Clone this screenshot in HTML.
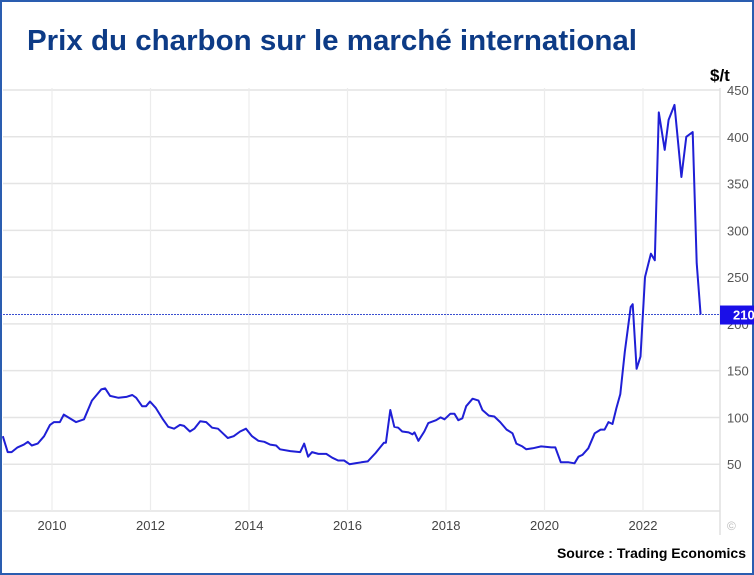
<!DOCTYPE html>
<html><head><meta charset="utf-8"><style>
html,body{margin:0;padding:0;background:#fff;}
svg{display:block;font-family:"Liberation Sans",Arial,sans-serif;}
</style></head><body>
<svg id="chart" width="754" height="575" viewBox="0 0 754 575">
<rect x="1" y="1" width="752" height="573" fill="#fff" stroke="#2a5db0" stroke-width="2"/>
<text x="27" y="50" font-size="29" font-weight="bold" fill="#0d3b86" textLength="610" lengthAdjust="spacingAndGlyphs">Prix du charbon sur le marché international</text>
<text x="710" y="81" font-size="17" font-weight="bold" fill="#000">$/t</text>
<g id="grid"></g>
<g id="yticks"></g>
<g id="xticks"></g>
<g id="series"></g>
<text x="727" y="530" font-size="12" fill="#bbb">©</text>
<text x="746" y="558" font-size="14" font-weight="bold" fill="#000" text-anchor="end">Source : Trading Economics</text>
</svg>
<script>
const yTicks = [50,100,150,200,250,300,350,400,450];
const xTickYears = [2010,2012,2014,2016,2018,2020,2022];
const dates = [2009.0,2009.1,2009.18,2009.3,2009.43,2009.51,2009.59,2009.71,2009.84,2009.96,2010.04,2010.16,2010.24,2010.33,2010.49,2010.65,2010.81,2011.0,2011.08,2011.18,2011.35,2011.51,2011.63,2011.71,2011.83,2011.91,2011.99,2012.11,2012.24,2012.36,2012.48,2012.6,2012.68,2012.8,2012.89,2013.01,2013.13,2013.25,2013.37,2013.49,2013.57,2013.69,2013.82,2013.94,2014.06,2014.19,2014.31,2014.43,2014.55,2014.63,2014.84,2015.04,2015.12,2015.2,2015.28,2015.41,2015.57,2015.69,2015.81,2015.93,2016.04,2016.16,2016.28,2016.41,2016.57,2016.74,2016.78,2016.87,2016.95,2017.03,2017.11,2017.24,2017.32,2017.36,2017.44,2017.56,2017.64,2017.8,2017.89,2017.97,2018.09,2018.17,2018.25,2018.33,2018.41,2018.54,2018.66,2018.74,2018.87,2018.98,2019.1,2019.23,2019.35,2019.43,2019.55,2019.63,2019.76,2019.93,2020.14,2020.22,2020.33,2020.49,2020.61,2020.69,2020.77,2020.89,2021.02,2021.14,2021.22,2021.3,2021.38,2021.46,2021.54,2021.63,2021.75,2021.79,2021.87,2021.95,2022.04,2022.16,2022.24,2022.32,2022.44,2022.52,2022.64,2022.78,2022.88,2023.01,2023.09,2023.17,2023.21];
const prices = [80,63,63,68,71,74,70,72,80,92,95,95,103,100,95,98,118,130,131,123,121,122,124,121,112,112,117,110,99,90,88,92,91,85,88,96,95,89,88,82,78,80,85,88,80,75,74,71,70,66,64,63,72,58,63,61,61,57,54,54,50,51,52,53,62,73,73,108,90,89,85,84,82,84,75,85,94,97,100,98,104,104,97,99,112,120,118,108,102,101,95,87,83,72,69,66,67,69,68,68,52,52,51,58,60,67,83,87,87,95,93,110,125,170,218,221,152,165,250,275,268,426,386,418,434,357,400,405,265,210];
const lastValue = 210;

const NS = 'http://www.w3.org/2000/svg';
const X = yr => 52 + (yr - 2010) * 49.25;
const Y = v => 511 - v * 0.9356;
function mk(tag, attrs, parent){ const e=document.createElementNS(NS,tag); for(const k in attrs) e.setAttribute(k,attrs[k]); parent.appendChild(e); return e; }

const grid=document.getElementById('grid'), yt=document.getElementById('yticks'), xt=document.getElementById('xticks'), ser=document.getElementById('series');
[0].concat(yTicks).forEach(v=>{
  const l=mk('line',{x1:3,x2:720,y1:Y(v),y2:Y(v),stroke:'#e4e4e4','stroke-width':1.5},grid);
  
  
});
yTicks.forEach(v=>{
  const t=mk('text',{x:727,y:Y(v)+5,'font-size':13,fill:'#555'},yt);
  t.textContent=v;
  
  
});
xTickYears.forEach(yr=>{
  const l=mk('line',{x1:X(yr),x2:X(yr),y1:88,y2:511,stroke:'#ececec','stroke-width':1.2},grid);
  
  
  const t=mk('text',{x:X(yr),y:530,'font-size':13,fill:'#444','text-anchor':'middle'},xt);
  t.textContent=yr;
  
  
});
const ax=mk('line',{x1:720,x2:720,y1:88,y2:535,stroke:'#e0e0e0','stroke-width':1.5},grid);



const ref=mk('line',{x1:0,x2:720,y1:Y(lastValue),y2:Y(lastValue),stroke:'#3a4fd0','stroke-width':1,'stroke-dasharray':'2,1'},ser);


const pts=dates.map((d,i)=>X(d).toFixed(1)+','+Y(prices[i]).toFixed(1)).join(' ');
const pl=mk('polyline',{points:pts,fill:'none',stroke:'#1f1fd6','stroke-width':2,'stroke-linejoin':'round'},ser);


const box=mk('rect',{x:720,y:Y(lastValue)-9,width:34,height:19,fill:'#1a0fe8'},ser);


const bt=mk('text',{x:733,y:Y(lastValue)+5,'font-size':13,'font-weight':'bold',fill:'#fff'},ser);
bt.textContent=lastValue;


</script>
</body></html>
